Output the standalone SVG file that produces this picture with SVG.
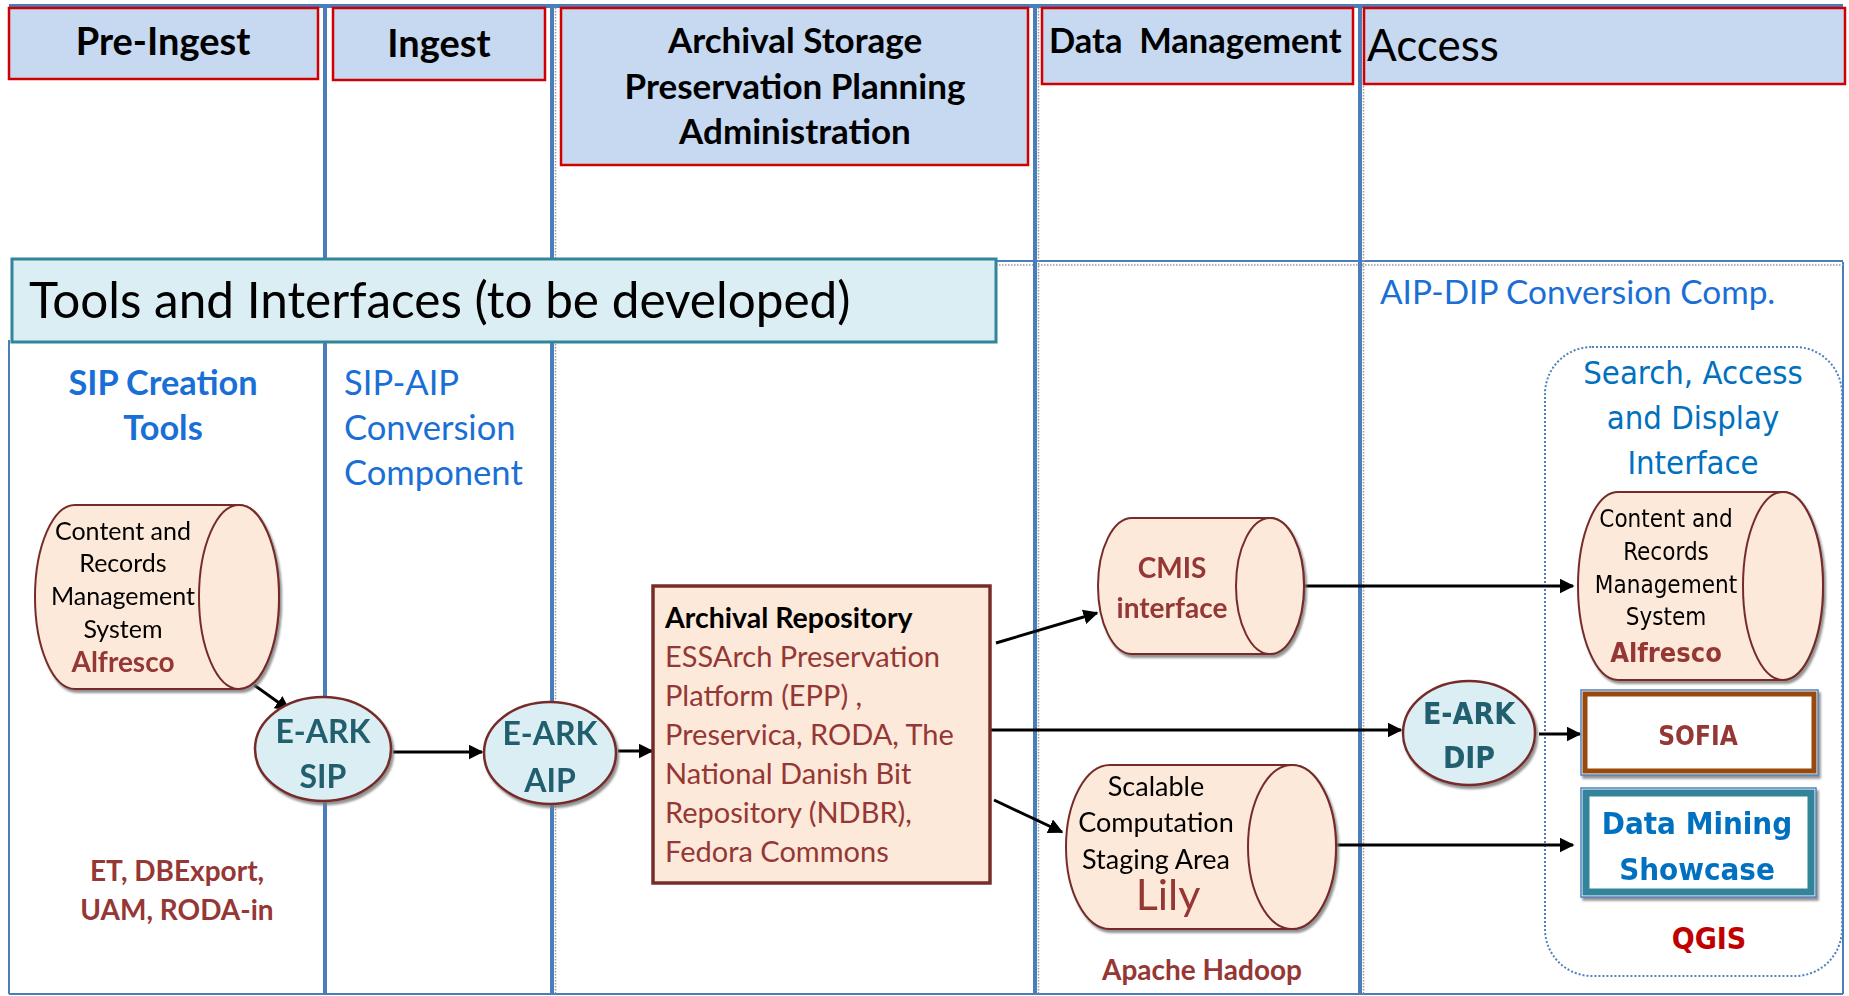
<svg xmlns="http://www.w3.org/2000/svg" width="1849" height="996" viewBox="0 0 1849 996">
<defs>
<marker id="ah" viewBox="0 0 10 10" refX="9" refY="5" markerWidth="5" markerHeight="5" markerUnits="strokeWidth" orient="auto">
<path d="M0,0 L10,5 L0,10 Z" fill="#000"/>
</marker>
<filter id="sh" x="-10%" y="-10%" width="125%" height="125%">
<feDropShadow dx="2" dy="3" stdDeviation="0.8" flood-color="#777" flood-opacity="0.8"/>
</filter>
</defs>
<style>
.hdr{fill:#c6d9f1;stroke:#d00000;stroke-width:2.5}
.lane{stroke:#4a7ebb;stroke-width:4;fill:none}
.thin{stroke:#4a7ebb;stroke-width:2;fill:none}
.dot{stroke:#999;stroke-width:1.5;stroke-dasharray:1.5 1.5;fill:none}
.cyl{fill:#fde9d9;stroke:#772c2a;stroke-width:2}
.ell{fill:#dbeef4;stroke:#772c2a;stroke-width:2.5}
.conn{stroke:#000;stroke-width:3;fill:none;marker-end:url(#ah)}
.cal{font-family:Lato,"Liberation Sans",sans-serif}
.tah{font-family:"DejaVu Sans Condensed","DejaVu Sans",sans-serif;font-stretch:condensed}
.b{font-weight:bold}
.mid{text-anchor:middle}
.blk{fill:#000}
.red{fill:#953735}
.blue{fill:#1a6fd6}
.teal{fill:#215f6e}
</style>
<rect width="1849" height="996" fill="#fff"/>

<g id="frame">
<line class="lane" x1="9" y1="6" x2="1843" y2="6"/>
<line class="thin" x1="9" y1="340" x2="9" y2="994"/>
<line class="thin" x1="1843" y1="262" x2="1843" y2="994"/>
<line class="thin" x1="9" y1="994" x2="1843" y2="994"/>
<line class="thin" x1="996" y1="261" x2="1843" y2="261"/>
<line class="dot" x1="996" y1="265" x2="1843" y2="265"/>
<line class="lane" x1="325" y1="8" x2="325" y2="994"/>
<line class="lane" x1="552" y1="8" x2="552" y2="994"/>
<line class="dot" x1="555.5" y1="8" x2="555.5" y2="994"/>
<line class="lane" x1="1035" y1="8" x2="1035" y2="994"/>
<line class="dot" x1="1038.5" y1="8" x2="1038.5" y2="994"/>
<line class="lane" x1="1360" y1="8" x2="1360" y2="994"/>
<line class="dot" x1="1363.5" y1="8" x2="1363.5" y2="994"/>
</g>

<g id="hdr-preingest">
<rect class="hdr" x="9" y="8" width="309" height="71"/>
<text class="cal b mid blk" x="163" y="55" font-size="38">Pre-Ingest</text>
</g>
<g id="hdr-ingest">
<rect class="hdr" x="333" y="8" width="212" height="72"/>
<text class="cal b mid blk" x="439" y="57" font-size="38">Ingest</text>
</g>
<g id="hdr-archival">
<rect class="hdr" x="561" y="8" width="467" height="157"/>
<text class="cal b mid blk" x="795" y="53" font-size="35">Archival Storage</text>
<text class="cal b mid blk" x="795" y="99" font-size="35">Preservation Planning</text>
<text class="cal b mid blk" x="795" y="144" font-size="35">Administration</text>
</g>
<g id="hdr-datamgmt">
<rect class="hdr" x="1042" y="8" width="311" height="76"/>
<text class="cal b blk" x="1049" y="53" font-size="34.5" xml:space="preserve">Data  Management</text>
</g>
<g id="hdr-access">
<rect class="hdr" x="1364" y="8" width="481" height="76"/>
<text class="cal blk" x="1367" y="61" font-size="44">Access</text>
</g>

<g id="tools">
<rect x="12" y="259" width="984" height="83" fill="#dbeef4" stroke="#31859c" stroke-width="3"/>
<text class="cal blk" x="29" y="318" font-size="49.5">Tools and Interfaces (to be developed)</text>
</g>

<g id="aipdip-label">
<text class="cal blue" x="1380" y="304" font-size="33.4">AIP-DIP Conversion Comp.</text>
</g>
<g id="sip-creation-label">
<text class="cal b mid blue" x="163" y="395" font-size="34.3">SIP Creation</text>
<text class="cal b mid blue" x="163" y="440" font-size="34.3">Tools</text>
</g>
<g id="sipaip-label">
<text class="cal blue" x="344" y="395" font-size="34.6">SIP-AIP</text>
<text class="cal blue" x="344" y="440" font-size="34.6">Conversion</text>
<text class="cal blue" x="344" y="485" font-size="34.6">Component</text>
</g>
<g id="etdb-label">
<text class="cal b mid red" x="177" y="881" font-size="28">ET, DBExport,</text>
<text class="cal b mid red" x="177" y="920" font-size="28">UAM, RODA-in</text>
</g>
<g id="hadoop-label">
<text class="cal b mid red" x="1202" y="980" font-size="28">Apache Hadoop</text>
</g>

<g id="search-group">
<rect x="1545" y="347" width="297" height="629" rx="47" ry="47" fill="none" stroke="#4f81bd" stroke-width="2" stroke-dasharray="2 2"/>
<text class="tah mid" x="1693" y="384" font-size="32.6" fill="#0070c0">Search, Access</text>
<text class="tah mid" x="1693" y="429" font-size="32.6" fill="#0070c0">and Display</text>
<text class="tah mid" x="1693" y="474" font-size="32.6" fill="#0070c0">Interface</text>
<text class="tah b mid" x="1709" y="949" font-size="30" fill="#c00000">QGIS</text>
</g>

<g id="connectors">
<line class="conn" x1="254" y1="685" x2="289" y2="710"/>
<line class="conn" x1="393" y1="752" x2="482" y2="752"/>
<line class="conn" x1="618" y1="751" x2="652" y2="751"/>
<line class="conn" x1="996" y1="643" x2="1097" y2="613"/>
<line class="conn" x1="990" y1="730" x2="1401" y2="730"/>
<line class="conn" x1="994" y1="800" x2="1062" y2="832"/>
<line class="conn" x1="1305" y1="586" x2="1573" y2="586"/>
<line class="conn" x1="1336" y1="845" x2="1573" y2="845"/>
<line class="conn" x1="1539" y1="734" x2="1580" y2="734"/>
</g>

<g id="alfresco-left" filter="url(#sh)">
<path class="cyl" d="M75,505 L239,505 A40,92 0 0 1 239,689 L75,689 A40,92 0 0 1 75,505 Z"/>
<ellipse class="cyl" cx="239" cy="597" rx="40" ry="92"/>
<text class="cal mid blk" x="123" y="540" font-size="25">Content and</text>
<text class="cal mid blk" x="123" y="572" font-size="25">Records</text>
<text class="cal mid blk" x="123" y="605" font-size="25">Management</text>
<text class="cal mid blk" x="123" y="638" font-size="25">System</text>
<text class="cal b mid red" x="123" y="672" font-size="28">Alfresco</text>
</g>

<g id="eark-sip" filter="url(#sh)">
<ellipse class="ell" cx="323" cy="749" rx="68" ry="52"/>
<text class="cal b mid teal" x="323" y="743" font-size="32">E-ARK</text>
<text class="cal b mid teal" x="323" y="788" font-size="32">SIP</text>
</g>
<g id="eark-aip" filter="url(#sh)">
<ellipse class="ell" cx="550" cy="753" rx="66" ry="51"/>
<text class="cal b mid teal" x="550" y="745" font-size="32">E-ARK</text>
<text class="cal b mid teal" x="550" y="792" font-size="32">AIP</text>
</g>

<g id="archival-repo">
<rect x="653" y="586" width="337" height="297" fill="#fde9d9" stroke="#772c2a" stroke-width="3.5"/>
<text class="cal b blk" x="665" y="628" font-size="28.5">Archival Repository</text>
<text class="cal red" x="665" y="667" font-size="29">ESSArch Preservation</text>
<text class="cal red" x="665" y="706" font-size="29">Platform (EPP) ,</text>
<text class="cal red" x="665" y="745" font-size="29">Preservica, RODA, The</text>
<text class="cal red" x="665" y="784" font-size="29">National Danish Bit</text>
<text class="cal red" x="665" y="823" font-size="29">Repository (NDBR),</text>
<text class="cal red" x="665" y="862" font-size="29">Fedora Commons</text>
</g>

<g id="cmis" filter="url(#sh)">
<path class="cyl" d="M1132,518 L1270,518 A34,68 0 0 1 1270,654 L1132,654 A34,68 0 0 1 1132,518 Z"/>
<ellipse class="cyl" cx="1270" cy="586" rx="34" ry="68"/>
<text class="cal b mid red" x="1172" y="578" font-size="28">CMIS</text>
<text class="cal b mid red" x="1172" y="618" font-size="28">interface</text>
</g>

<g id="lily" filter="url(#sh)">
<path class="cyl" d="M1110,765 L1292,765 A44,82 0 0 1 1292,929 L1110,929 A44,82 0 0 1 1110,765 Z"/>
<ellipse class="cyl" cx="1292" cy="847" rx="44" ry="82"/>
<text class="cal mid blk" x="1156" y="796" font-size="27">Scalable</text>
<text class="cal mid blk" x="1156" y="832" font-size="27">Computation</text>
<text class="cal mid blk" x="1156" y="869" font-size="27">Staging Area</text>
<text class="cal mid red" x="1168" y="910" font-size="43">Lily</text>
</g>

<g id="eark-dip" filter="url(#sh)">
<ellipse class="ell" cx="1469" cy="733" rx="66" ry="52"/>
<text class="tah b mid teal" x="1469" y="724" font-size="30">E-ARK</text>
<text class="tah b mid teal" x="1469" y="768" font-size="30">DIP</text>
</g>

<g id="alfresco-right" filter="url(#sh)">
<path class="cyl" d="M1618,492 L1783,492 A40,94 0 0 1 1783,680 L1618,680 A40,94 0 0 1 1618,492 Z"/>
<ellipse class="cyl" cx="1783" cy="586" rx="40" ry="94"/>
<text class="tah mid blk" x="1666" y="527" font-size="24">Content and</text>
<text class="tah mid blk" x="1666" y="560" font-size="24">Records</text>
<text class="tah mid blk" x="1666" y="593" font-size="24">Management</text>
<text class="tah mid blk" x="1666" y="625" font-size="24">System</text>
<text class="tah b mid red" x="1666" y="662" font-size="27">Alfresco</text>
</g>

<g id="sofia" filter="url(#sh)">
<rect x="1581" y="690" width="237" height="85" fill="#fff" stroke="#4f81bd" stroke-width="1.5"/>
<rect x="1585" y="694" width="229" height="77" fill="#fff" stroke="#984807" stroke-width="5"/>
<text class="tah b mid red" x="1698" y="745" font-size="26">SOFIA</text>
</g>

<g id="datamining" filter="url(#sh)">
<rect x="1581" y="788" width="235" height="109" fill="#fff" stroke="#4f81bd" stroke-width="1.5"/>
<rect x="1586" y="793" width="225" height="99" fill="#fff" stroke="#31849b" stroke-width="7"/>
<text class="tah b mid" x="1697" y="834" font-size="31" fill="#0070c0">Data Mining</text>
<text class="tah b mid" x="1697" y="880" font-size="31" fill="#0070c0">Showcase</text>
</g>
</svg>
